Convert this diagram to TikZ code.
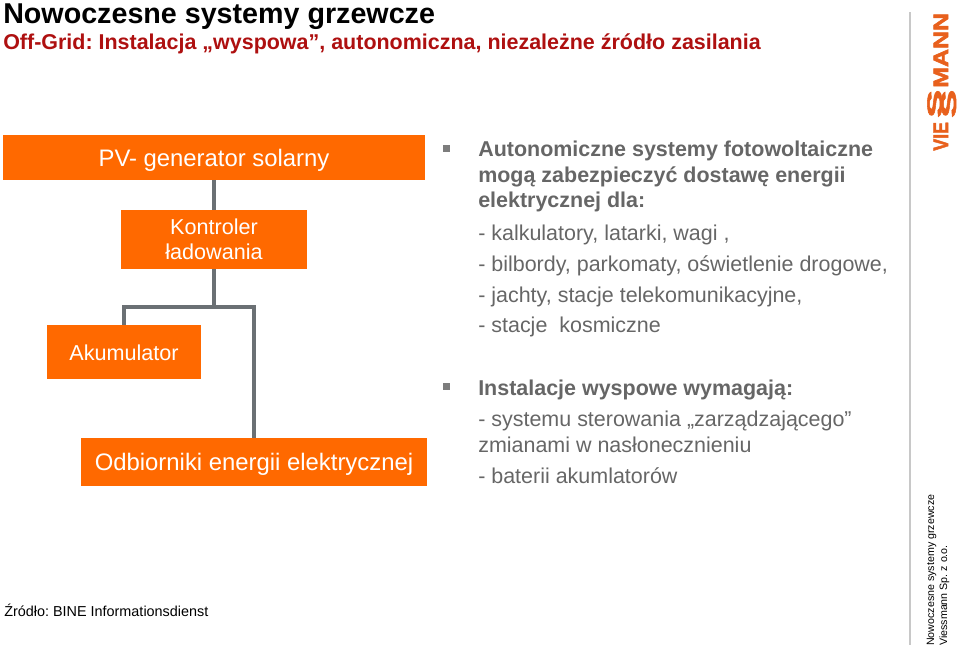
\documentclass[tikz,border=0pt]{standalone}
\usepackage{fontspec}
\setmainfont{Liberation Sans}
\newfontfamily\logofont{Liberation Sans}[BoldFeatures={FakeBold=2.5}]
\usetikzlibrary{calc}
\definecolor{vieorange}{HTML}{FF6900}
\definecolor{logoorange}{HTML}{E8601C}
\definecolor{viered}{HTML}{AE1010}
\definecolor{viegrey}{HTML}{6B7074}
\definecolor{vierule}{HTML}{C8C8C8}
\definecolor{vietext}{HTML}{666666}
\begin{document}
\frenchspacing
\begin{tikzpicture}[x=0.75pt,y=-0.75pt,
  orangebox/.style={fill=vieorange,text=white,font=\fontsize{17.9}{18.9}\selectfont,inner sep=0pt,align=center},
  smallbox/.style={orangebox,font=\fontsize{16.2}{18.9}\selectfont},
  oneline/.style={text height=12pt,text depth=0pt},
  txt/.style={anchor=base west,inner sep=0pt,text=vietext,font=\fontsize{16.1}{18}\selectfont},
  txtb/.style={txt,font=\bfseries\fontsize{16.1}{18}\selectfont},
  bul/.style={fill=vietext!85,inner sep=0pt,minimum size=4.9pt},
  logo/.style={rotate=90,anchor=base west,inner sep=0pt,text=logoorange,font=\logofont\bfseries\fontsize{15.7}{18}\selectfont},
  foot/.style={rotate=90,anchor=base west,inner sep=0pt,font=\fontsize{8}{10}\selectfont},
  link/.style={draw=viegrey,line width=2.3pt}]
  \useasboundingbox (0,0) rectangle (959,650);
  \node[anchor=base west,inner sep=0pt,font=\bfseries\fontsize{21.5}{24}\selectfont] (title) at (3,23) {Nowoczesne systemy grzewcze};
  \node[anchor=base west,inner sep=0pt,text=viered,font=\bfseries\fontsize{16.1}{18}\selectfont] (subtitle) at (3,49) {Off-Grid: Instalacja „wyspowa”, autonomiczna, niezależne źródło zasilania};
  % boxes
  \node[orangebox,oneline,text height=13.8pt,minimum width=316.5pt,minimum height=33.75pt] (pv) at (214,157.5) {PV- generator solarny};
  \node[smallbox,minimum width=139.5pt,minimum height=44.25pt] (ctrl) at (214,239.5) {Kontroler\\ładowania};
  \node[smallbox,oneline,minimum width=115.5pt,minimum height=40.5pt] (aku) at (124,352) {Akumulator};
  \node[orangebox,oneline,minimum width=259.5pt,minimum height=36pt] (odb) at (254,462) {Odbiorniki energii elektrycznej};
  \coordinate (jn) at (214,307);
  \draw[link] (pv) -- (ctrl);
  \draw[link] (ctrl) -- (jn);
  \draw[link] (aku) |- (jn) -| (odb);
  % right column
  \node[bul] (b1) at (446.5,148.5) {};
  \node[txtb] (t1) at (478,156) {Autonomiczne systemy fotowoltaiczne};
  \node[txtb] (t2) at (478,182) {mogą zabezpieczyć dostawę energii};
  \node[txtb] (t3) at (478,207) {elektrycznej dla:};
  \node[txt] (t4) at (478,240) {- kalkulatory, latarki, wagi ,};
  \node[txt] (t5) at (478,271) {- bilbordy, parkomaty, oświetlenie drogowe,};
  \node[txt] (t6) at (478,302) {- jachty, stacje telekomunikacyjne,};
  \node[txt] (t7) at (478,332) {- stacje\ \ kosmiczne};
  \node[bul] (b2) at (446.5,386.5) {};
  \node[txtb] (t8) at (478,395) {Instalacje wyspowe wymagają:};
  \node[txt] (t9) at (478,426) {- systemu sterowania „zarządzającego”};
  \node[txt] (t10) at (478,452) {zmianami w nasłonecznieniu};
  \node[txt] (t11) at (478,483) {- baterii akumlatorów};
  \node[anchor=base west,inner sep=0pt,font=\fontsize{10.8}{13}\selectfont] (src) at (4,616) {Źródło: BINE Informationsdienst};
  % side strip
  \coordinate (ruleA) at (910,12);
  \coordinate (ruleB) at (910,645);
  \draw[vierule,line width=1.2pt] (ruleA) -- (ruleB);
  \node[logo] (lgA) at (948,151) {\scalebox{0.85}[1]{VIE}};
  \node[logo] (lgB) at (942,118) {\scalebox{2}[1]{S}};
  \node[logo] (lgC) at (956,118) {\scalebox{2}[1]{S}};
  \node[logo] (lgD) at (948,88) {\scalebox{1.19}[1]{MANN}};
  \node[foot] (foot1) at (934,646) {Nowoczesne systemy grzewcze};
  \node[foot] (foot2) at (947,646) {Viessmann Sp. z o.o.};
\end{tikzpicture}
\end{document}
